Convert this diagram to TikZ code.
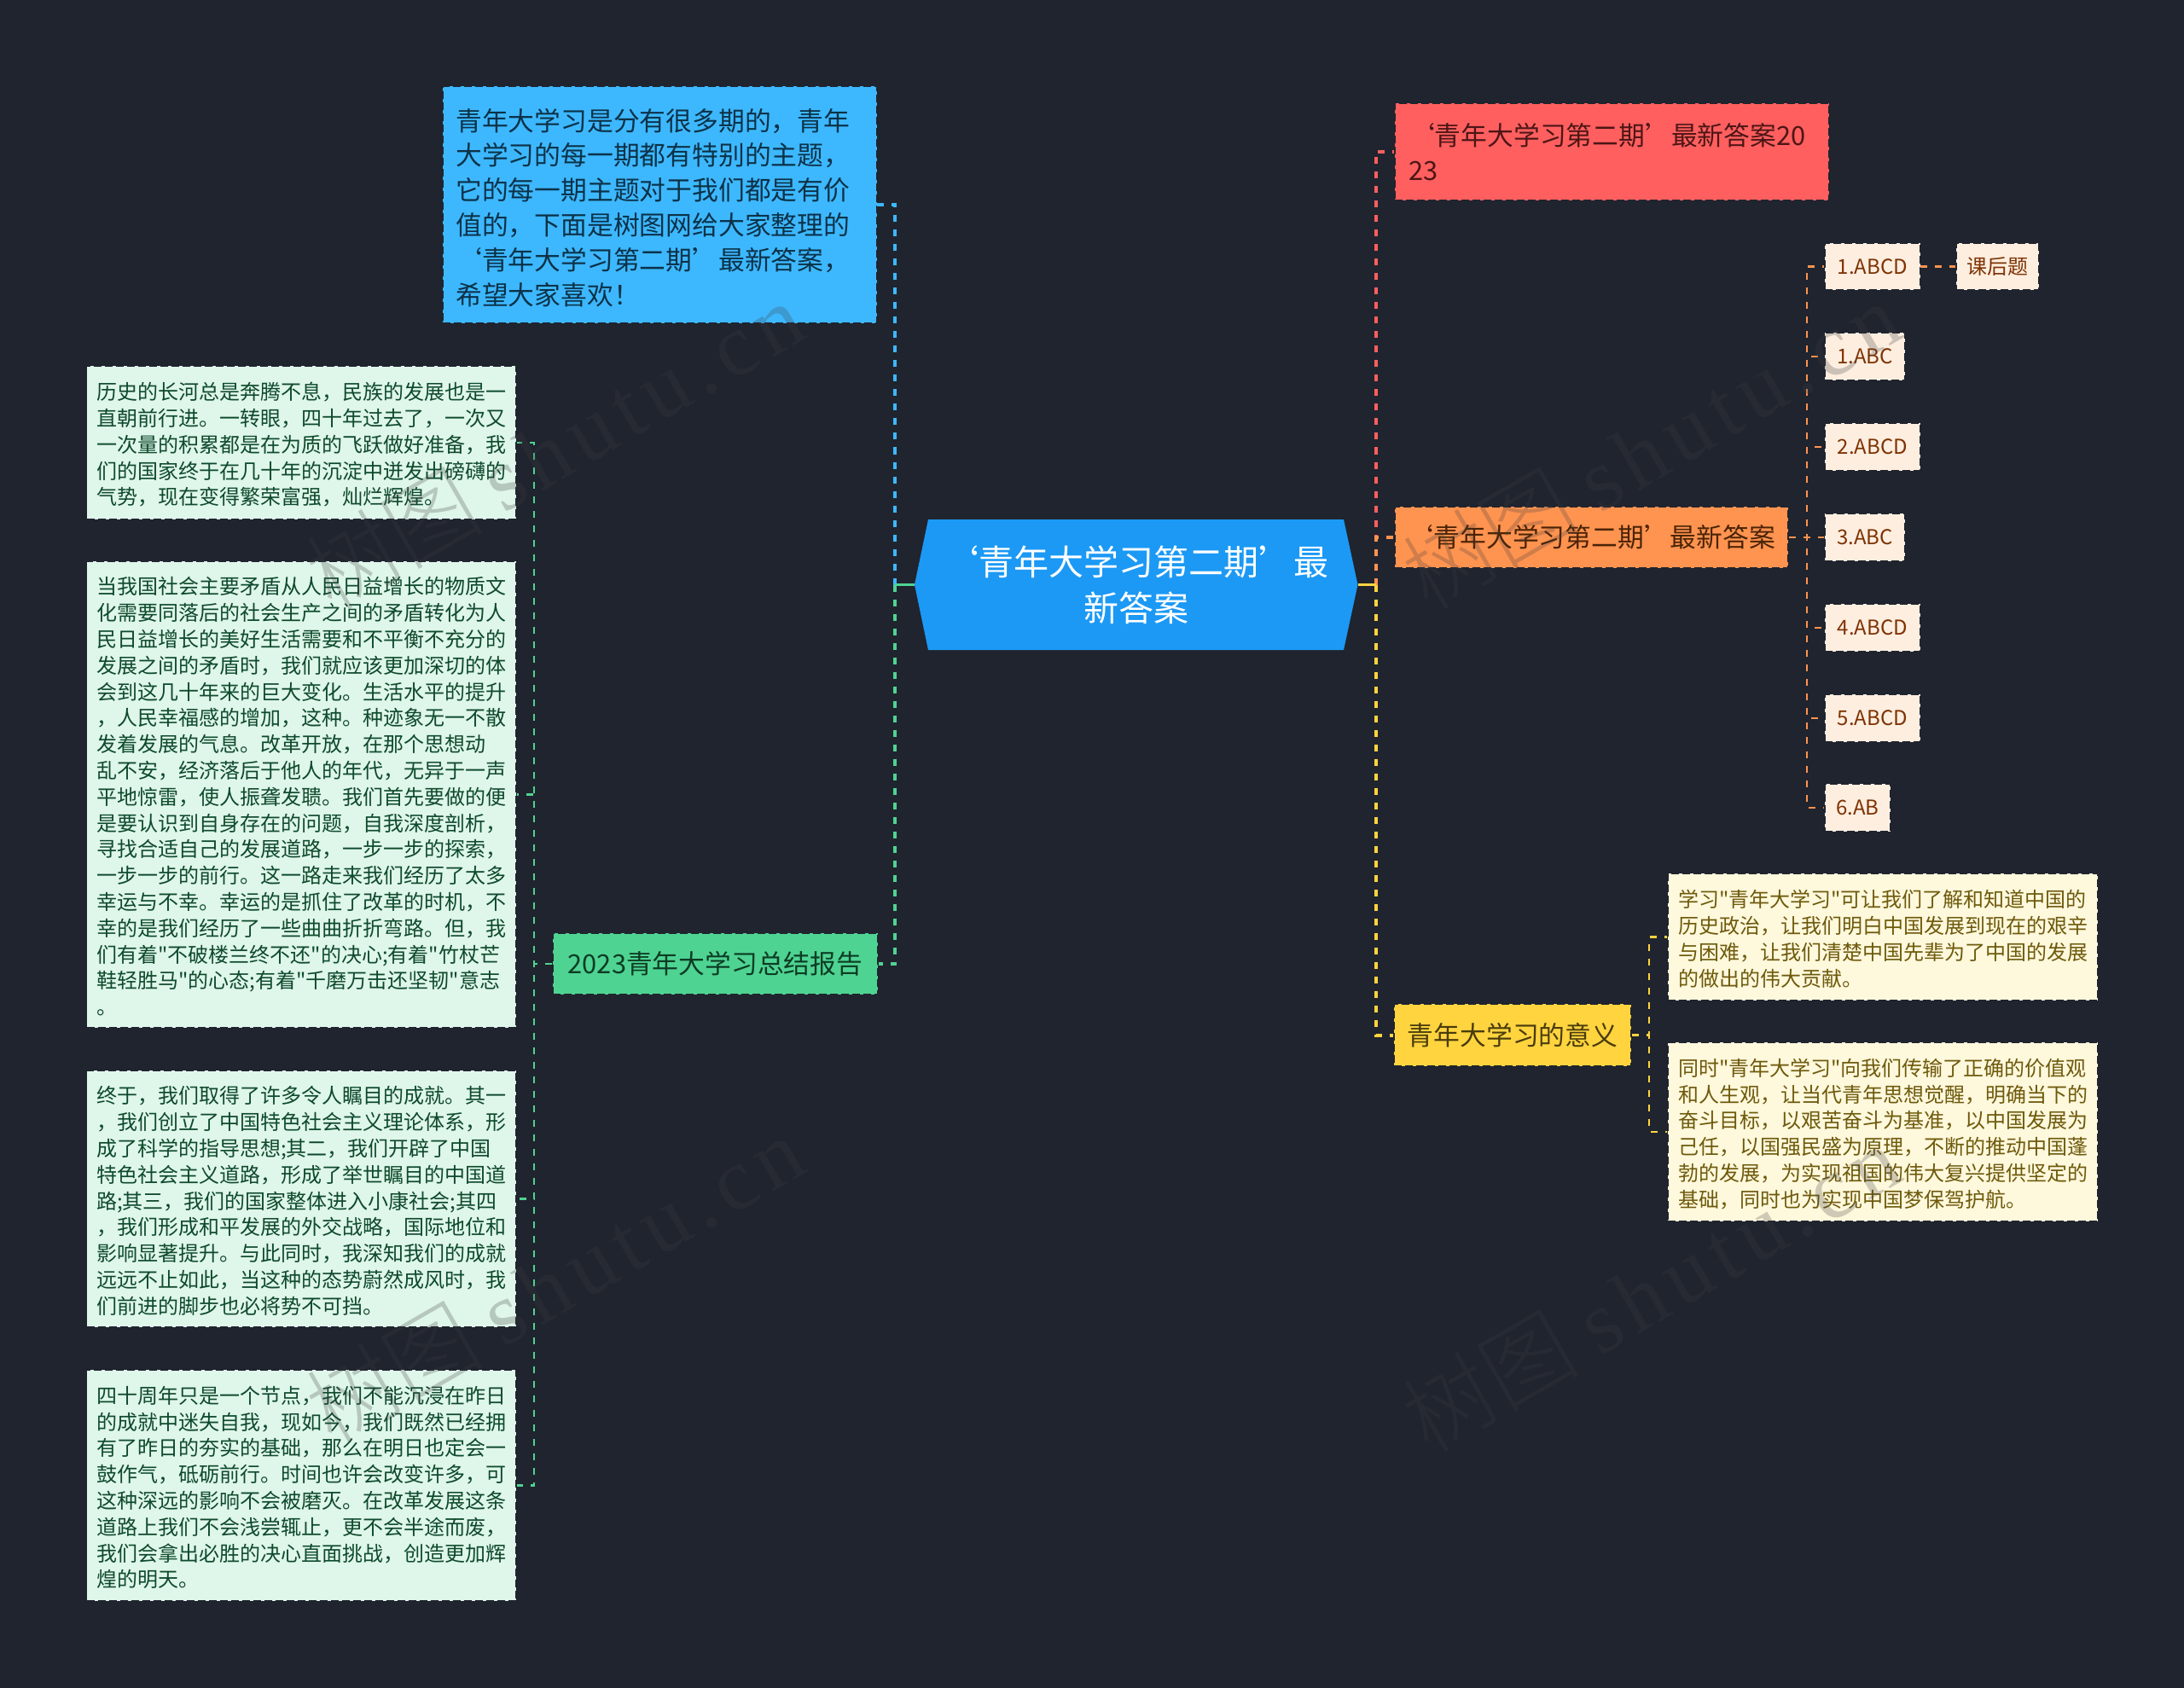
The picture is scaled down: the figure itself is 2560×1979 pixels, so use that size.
\documentclass[tikz,border=0pt]{standalone}
\usepackage{fontspec}
\setmainfont{Noto Sans CJK SC}[Ligatures=TeXOff]
\newfontfamily\markfont[LetterSpace=9]{Liberation Serif}
\newfontfamily\markcjk{Noto Sans CJK SC Light}
\definecolor{pagebg}{HTML}{20242F}
\definecolor{rootfill}{HTML}{1B99F5}
\definecolor{bluefill}{HTML}{3DB8FF}
\definecolor{bluetext}{HTML}{0C3248}
\definecolor{redfill}{HTML}{FF5F5F}
\definecolor{redtext}{HTML}{4D1616}
\definecolor{orangefill}{HTML}{FF9350}
\definecolor{orangetext}{HTML}{4A2406}
\definecolor{yellowfill}{HTML}{FFD43F}
\definecolor{yellowtext}{HTML}{4A3C0C}
\definecolor{greenfill}{HTML}{4FD392}
\definecolor{greentext}{HTML}{0C3C24}
\definecolor{mintfill}{HTML}{DFF6EA}
\definecolor{minttext}{HTML}{0E4A2C}
\definecolor{peachfill}{HTML}{FDEEE0}
\definecolor{peachtext}{HTML}{7E3303}
\definecolor{creamfill}{HTML}{FEF8DC}
\definecolor{creamtext}{HTML}{6E5A0C}
\tikzset{
	size/.style 2 args={minimum width=#1*0.5pt, minimum height=#2*0.5pt},
	boxbase/.style={inner sep=0pt, draw=pagebg, line width=0.9pt, dash pattern=on 4.5pt off 2pt, align=left},
	bigbox/.style={boxbase, font=\fontsize{15.4}{20.4}\selectfont},
	smallbox/.style={boxbase, font=\fontsize{12}{15.4}\selectfont},
	nudged/.style={execute at begin node={\rule{0pt}{1.05em}}},
	bluebox/.style={bigbox, nudged, fill=bluefill, text=bluetext},
	redbox/.style={bigbox, fill=redfill, text=redtext},
	orangebox/.style={bigbox, fill=orangefill, text=orangetext},
	yellowbox/.style={bigbox, fill=yellowfill, text=yellowtext},
	greenbox/.style={bigbox, fill=greenfill, text=greentext},
	mintbox/.style={smallbox, nudged, fill=mintfill, text=minttext, text width=240pt},
	peachbox/.style={smallbox, fill=peachfill, text=peachtext},
	creambox/.style={smallbox, nudged, fill=creamfill, text=creamtext, text width=240pt},
	linkmain/.style={line width=2pt, dash pattern=on 4pt off 4.5pt},
	linksub/.style={line width=1.2pt, dash pattern=on 4pt off 4.5pt},
	linkstub/.style={line width=1.6pt},
	wmark/.style={rotate=30, text=black!76, opacity=0.25, font=\fontsize{52}{52}\selectfont}
}

\begin{document}
\begin{tikzpicture}[x=0.5pt, y=-0.5pt]
	%%%%% START %%%%%
	
	\fill[pagebg] (0, 0) rectangle (2560, 1979);
	
	\coordinate (rootleft) at (1072, 685.5);
	\coordinate (rootright) at (1591.5, 685.5);
	\coordinate (trunkleft) at (1049.3, 685.5);
	\coordinate (trunkright) at (1612.8, 685.5);
	\coordinate (trunkmint) at (626, 1130);
	\coordinate (trunkpeach) at (2118, 630);
	\coordinate (trunkcream) at (1933, 1213.5);
	
	\node[bluebox, size={508.5}{277.6}, text width=239pt] (intro) at (773.25, 240.2) {青年大学习是分有很多期的，青年\\
		大学习的每一期都有特别的主题，\\
		它的每一期主题对于我们都是有价\\
		值的，下面是树图网给大家整理的\\
		‘青年大学习第二期’最新答案，\\
		希望大家喜欢！};
	
	\node[greenbox, size={381}{72}] (report) at (838.5, 1130) {2023青年大学习总结报告};
	
	\node[mintbox, size={503.5}{180}] (mintone) at (353.25, 519) {历史的长河总是奔腾不息，民族的发展也是一\\
		直朝前行进。一转眼，四十年过去了，一次又\\
		一次量的积累都是在为质的飞跃做好准备，我\\
		们的国家终于在几十年的沉淀中迸发出磅礴的\\
		气势，现在变得繁荣富强，灿烂辉煌。};
	\node[mintbox, size={503.5}{547}] (minttwo) at (353.25, 931.5) {当我国社会主要矛盾从人民日益增长的物质文\\
		化需要同落后的社会生产之间的矛盾转化为人\\
		民日益增长的美好生活需要和不平衡不充分的\\
		发展之间的矛盾时，我们就应该更加深切的体\\
		会到这几十年来的巨大变化。生活水平的提升\\
		，人民幸福感的增加，这种。种迹象无一不散\\
		发着发展的气息。改革开放，在那个思想动\\
		乱不安，经济落后于他人的年代，无异于一声\\
		平地惊雷，使人振聋发聩。我们首先要做的便\\
		是要认识到自身存在的问题，自我深度剖析，\\
		寻找合适自己的发展道路，一步一步的探索，\\
		一步一步的前行。这一路走来我们经历了太多\\
		幸运与不幸。幸运的是抓住了改革的时机，不\\
		幸的是我们经历了一些曲曲折折弯路。但，我\\
		们有着"不破楼兰终不还"的决心;有着"竹杖芒\\
		鞋轻胜马"的心态;有着"千磨万击还坚韧"意志\\
		。};
	\node[mintbox, size={503.5}{301}] (mintthree) at (353.25, 1405.5) {终于，我们取得了许多令人瞩目的成就。其一\\
		，我们创立了中国特色社会主义理论体系，形\\
		成了科学的指导思想;其二，我们开辟了中国\\
		特色社会主义道路，形成了举世瞩目的中国道\\
		路;其三，我们的国家整体进入小康社会;其四\\
		，我们形成和平发展的外交战略，国际地位和\\
		影响显著提升。与此同时，我深知我们的成就\\
		远远不止如此，当这种的态势蔚然成风时，我\\
		们前进的脚步也必将势不可挡。};
	\node[mintbox, size={503.5}{271}] (mintfour) at (353.25, 1741.5) {四十周年只是一个节点，我们不能沉浸在昨日\\
		的成就中迷失自我，现如今，我们既然已经拥\\
		有了昨日的夯实的基础，那么在明日也定会一\\
		鼓作气，砥砺前行。时间也许会改变许多，可\\
		这种深远的影响不会被磨灭。在改革发展这条\\
		道路上我们不会浅尝辄止，更不会半途而废，\\
		我们会拿出必胜的决心直面挑战，创造更加辉\\
		煌的明天。};
	
	\node[redbox, size={509}{113.7}, text width=238.5pt] (answeryear) at (1889.5, 177.8) {‘青年大学习第二期’最新答案20\\
		23};
	\node[orangebox, size={461}{72}] (answers) at (1865.5, 630) {‘青年大学习第二期’最新答案};
	\node[yellowbox, size={278}{73}] (meaning) at (1773, 1213.5) {青年大学习的意义};
	
	\node[peachbox, size={111.5}{55.5}] (itemone) at (2194.75, 312.5) {1.ABCD};
	\node[peachbox, size={94}{55.5}] (itemtwo) at (2186, 418) {1.ABC};
	\node[peachbox, size={111.5}{55.5}] (itemthree) at (2194.75, 524) {2.ABCD};
	\node[peachbox, size={94}{55.5}] (itemfour) at (2186, 630) {3.ABC};
	\node[peachbox, size={111.5}{55.5}] (itemfive) at (2194.75, 736) {4.ABCD};
	\node[peachbox, size={111.5}{55.5}] (itemsix) at (2194.75, 842) {5.ABCD};
	\node[peachbox, size={77}{55.5}] (itemseven) at (2177.5, 947) {6.AB};
	\node[peachbox, size={97}{55.5}] (homework) at (2341.5, 312.5) {课后题};
	
	\node[creambox, size={504}{149}] (creamone) at (2207, 1098.5) {学习"青年大学习"可让我们了解和知道中国的\\
		历史政治，让我们明白中国发展到现在的艰辛\\
		与困难，让我们清楚中国先辈为了中国的发展\\
		的做出的伟大贡献。};
	\node[creambox, size={504}{210}] (creamtwo) at (2207, 1327) {同时"青年大学习"向我们传输了正确的价值观\\
		和人生观，让当代青年思想觉醒，明确当下的\\
		奋斗目标，以艰苦奋斗为基准，以中国发展为\\
		己任，以国强民盛为原理，不断的推动中国蓬\\
		勃的发展，为实现祖国的伟大复兴提供坚定的\\
		基础，同时也为实现中国梦保驾护航。};
	
	\draw[linkmain, color=bluefill] (trunkleft) |- (intro.east);
	\draw[linkmain, color=greenfill] (trunkleft) |- (report.east);
	\draw[linkstub, color=greenfill] (rootleft) -- (trunkleft);
	\draw[linkmain, color=redfill] (trunkright) |- (answeryear.west);
	\draw[linkmain, color=orangefill] (trunkright) |- (answers.west);
	\draw[linkmain, color=yellowfill] (trunkright) |- (meaning.west);
	\draw[linkstub, color=yellowfill] (rootright) -- (trunkright);
	
	\draw[linksub, color=greenfill] (report.west) -- (trunkmint) |- (mintone.east);
	\draw[linksub, color=greenfill] (report.west) -- (trunkmint) |- (minttwo.east);
	\draw[linksub, color=greenfill] (report.west) -- (trunkmint) |- (mintthree.east);
	\draw[linksub, color=greenfill] (report.west) -- (trunkmint) |- (mintfour.east);
	
	\draw[linksub, color=orangefill] (answers.east) -- (trunkpeach) |- (itemone.west);
	\draw[linksub, color=orangefill] (answers.east) -- (trunkpeach) |- (itemtwo.west);
	\draw[linksub, color=orangefill] (answers.east) -- (trunkpeach) |- (itemthree.west);
	\draw[linksub, color=orangefill] (answers.east) -- (trunkpeach) |- (itemfour.west);
	\draw[linksub, color=orangefill] (answers.east) -- (trunkpeach) |- (itemfive.west);
	\draw[linksub, color=orangefill] (answers.east) -- (trunkpeach) |- (itemsix.west);
	\draw[linksub, color=orangefill] (answers.east) -- (trunkpeach) |- (itemseven.west);
	\draw[linksub, color=orangefill] (itemone.east) -- (homework.west);
	
	\draw[linksub, color=yellowfill] (meaning.east) -- (trunkcream) |- (creamone.west);
	\draw[linksub, color=yellowfill] (meaning.east) -- (trunkcream) |- (creamtwo.west);
	
	% central node on its pointed plate
	\fill[rootfill] (1088, 609) -- (1575, 609) -- (rootright) -- (1575, 762) -- (1088, 762) -- (rootleft) -- cycle;
	\node[font=\fontsize{20.5}{26.8}\selectfont, text=white, align=center, inner sep=0pt, text width=226pt] (root) at (1331.5, 685.5) {‘青年大学习第二期’最\\
		新答案};
	
	% watermarks
	\foreach \markname/\markx/\marky in {markone/650/522, marktwo/650/1500, markthree/1935/522, markfour/1935/1510}
		\node[wmark] (\markname) at (\markx, \marky) {{\markcjk 树图} {\markfont shutu.cn}};
	
	%%%%% END %%%%%
\end{tikzpicture}
\end{document}
